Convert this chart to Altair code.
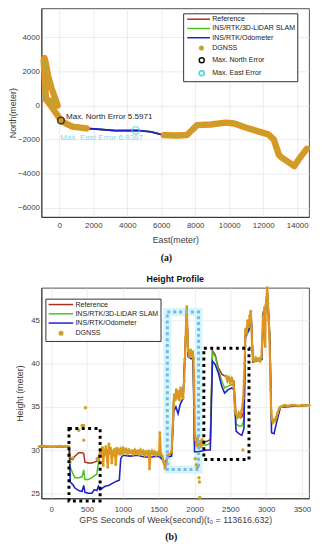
import altair as alt
import pandas as pd

FONT = "Liberation Sans"

# ---------------- panel (a): trajectory (East, North in metres) ----------------
traj_east = [-780, -830, -900, -920, -870, -800, -650, -450, -200, -100,
             -450, -780, -600, -300, 100, 400, 770, 1600, 2300, 3300,
             4600, 5400, 6150, 6900, 7500, 7800, 8100, 8900, 9800, 10300,
             11000, 12300, 12630, 12920, 13115, 13400, 13830, 14080, 14560]
traj_north = [350, 1200, 2300, 2650, 2780, 2500, 1700, 1000, 300, 0,
              250, 350, 140, -290, -880, -1060, -1240, -1340, -1390, -1470,
              -1460, -1540, -1735, -1760, -1730, -1450, -1150, -1110, -1000, -1050,
              -1300, -1690, -2000, -2880, -3070, -3260, -3550, -3170, -2540]
dgnss_gap_east = [1600, 6150]   # DGNSS unavailable between these East values

max_north_pt = [100, -880]
max_east_pt = [4500, -1450]
north_note = "Max. North Error 5.5971"
east_note = "Max. East Error 6.9387"
north_note_at = [400, -650]
east_note_at = [60, -1920]

legend_a = ["Reference", "INS/RTK/3D-LiDAR SLAM", "INS/RTK/Odometer", "DGNSS",
            "Max. North Error", "Max. East Error"]
x_dom_a = [-1050, 14700]
y_dom_a = [-6530, 5690]
x_ticks_a = [0, 2000, 4000, 6000, 8000, 10000, 12000, 14000]
y_ticks_a = [-6000, -4000, -2000, 0, 2000, 4000]

# ---------------- panel (b): height profile ----------------
time_b = [-170, 240, 250, 265, 300, 330, 384, 430, 453, 470,
          520, 568, 600, 636, 659, 680, 700, 750, 800, 866,
          911, 950, 970, 1000, 1100, 1200, 1300, 1400, 1500, 1550,
          1590, 1620, 1680, 1710, 1740, 1770, 1800, 1840, 1870, 1892,
          1910, 1950, 1980, 2000, 2050, 2100, 2170, 2220, 2250, 2290,
          2330, 2380, 2420, 2470, 2520, 2550, 2580, 2620, 2660, 2690,
          2710, 2760, 2790, 2815, 2900, 2940, 2960, 2990, 3015, 3050,
          3075, 3110, 3140, 3200, 3600]
ref_b = [30.4, 30.4, 30.4, 29.0, 28.9, 29.3, 29.7, 29.7, 29.6, 28.6,
         28.5, 28.5, 28.6, 28.7, 29.2, 29.8, 29.6, 29.8, 30.0, 29.8,
         29.9, 29.8, 29.7, 29.8, 29.8, 29.9, 29.6, 29.5, 29.6, 29.2,
         28.0, 29.3, 29.6, 36.2, 36.6, 36.3, 36.8, 36.2, 42.0, 46.3,
         41.4, 41.0, 41.2, 31.2, 31.0, 31.0, 31.0, 31.2, 41.5, 41.0,
         39.6, 38.8, 38.6, 38.4, 38.2, 38.0, 34.0, 33.8, 33.8, 34.5,
         44.0, 44.5, 45.8, 40.5, 40.6, 40.6, 46.0, 46.5, 48.6, 43.5,
         33.5, 33.4, 33.6, 35.0, 35.2]
slam_b = [30.4, 30.4, 30.4, 28.0, 27.3, 26.8, 26.8, 26.9, 27.7, 26.6,
          26.6, 26.8, 27.0, 27.2, 28.6, 29.5, 29.6, 29.7, 29.8, 29.7,
          29.8, 29.7, 29.6, 29.7, 29.7, 29.8, 29.5, 29.5, 29.5, 29.0,
          28.2, 29.3, 29.5, 36.0, 36.2, 36.0, 36.5, 36.0, 41.8, 46.1,
          41.3, 40.9, 41.0, 30.8, 30.8, 30.6, 30.6, 30.8, 41.3, 40.8,
          39.4, 38.0, 37.2, 37.4, 37.6, 37.5, 33.0, 32.8, 32.8, 33.5,
          43.2, 43.8, 45.5, 40.4, 40.5, 40.5, 46.0, 46.4, 48.5, 43.3,
          33.3, 33.3, 33.5, 35.0, 35.2]
odo_b = [30.4, 30.4, 30.4, 26.3, 26.0, 25.6, 25.3, 25.2, 25.9, 25.1,
         25.0, 25.0, 25.4, 25.3, 25.8, 25.4, 25.5, 25.8, 25.9, 26.2,
         26.4, 26.5, 29.0, 29.4, 29.3, 29.4, 29.2, 29.2, 29.3, 28.9,
         28.3, 29.2, 29.3, 34.5, 35.0, 34.2, 35.3, 36.0, 41.5, 46.5,
         40.8, 40.6, 40.6, 29.8, 29.8, 29.9, 30.0, 30.0, 40.3, 39.9,
         39.0, 37.4, 36.6, 37.0, 37.2, 37.0, 32.2, 31.9, 31.7, 32.5,
         43.0, 44.0, 45.5, 40.2, 40.4, 40.5, 45.8, 46.0, 48.2, 42.8,
         32.0, 31.9, 33.0, 35.0, 35.2]

# DGNSS samples, three continuous stretches
dg1_t = [-170, -100, -30, 50, 120, 200, 245]
dg1_h = [30.4, 30.45, 30.4, 30.4, 30.45, 30.4, 30.4]
dg2_t = [680, 693, 705, 715, 725, 738, 750, 762, 775, 790,
         805, 815, 830, 845, 858, 872, 885, 900, 915, 930,
         945, 960, 975, 990, 1005, 1025, 1045, 1065, 1085, 1105,
         1125, 1145, 1165, 1185, 1205, 1225, 1245, 1265, 1285, 1305,
         1325, 1345, 1362, 1372, 1385, 1405, 1425, 1445, 1465, 1485,
         1505, 1516, 1530, 1550, 1570, 1590, 1605, 1620, 1650, 1680,
         1700, 1715, 1730, 1745, 1760, 1775, 1790, 1805, 1820, 1840,
         1855, 1865, 1875, 1885, 1892, 1900, 1907, 1915, 1930, 1945,
         1960, 1975, 1985, 1992, 1998, 2003, 2015, 2030, 2045, 2060,
         2075, 2090, 2105, 2120]
dg2_h = [29.5, 30.1, 29.3, 30.3, 28.2, 30.0, 29.5, 30.4, 29.3, 28.0,
         30.7, 29.6, 30.2, 28.5, 29.9, 29.4, 30.1, 28.3, 30.2, 29.7,
         30.0, 29.5, 30.1, 29.7, 30.2, 29.8, 30.1, 29.6, 30.0, 29.7,
         29.9, 29.5, 30.0, 29.6, 29.9, 29.5, 30.0, 29.6, 29.9, 29.4,
         29.8, 29.5, 29.9, 27.8, 29.6, 29.9, 29.5, 29.8, 29.4, 29.7,
         29.5, 32.0, 29.6, 29.3, 28.6, 27.9, 28.4, 29.4, 29.5, 29.8,
         33.5, 36.4, 35.8, 37.0, 36.0, 36.8, 35.8, 37.2, 36.4, 36.0,
         38.0, 40.5, 43.0, 45.5, 46.6, 44.0, 42.0, 41.5, 40.8, 41.6,
         40.9, 41.4, 40.6, 38.0, 35.0, 32.0, 31.2, 30.5, 31.4, 30.2,
         31.0, 30.4, 31.2, 30.8]
dg3_t = [2440, 2460, 2480, 2500, 2520, 2540, 2555, 2565, 2580, 2600,
         2620, 2640, 2660, 2680, 2690, 2698, 2705, 2712, 2725, 2740,
         2755, 2770, 2785, 2795, 2805, 2815, 2835, 2855, 2875, 2895,
         2915, 2935, 2945, 2955, 2965, 2975, 2985, 2995, 3005, 3015,
         3025, 3035, 3045, 3055, 3062, 3070, 3080, 3095, 3110, 3125,
         3140, 3160, 3180, 3200, 3230, 3260, 3300, 3350, 3400, 3450,
         3500, 3550, 3600]
dg3_h = [38.6, 38.0, 38.4, 37.8, 38.3, 37.9, 36.5, 34.5, 34.2, 33.8,
         34.3, 33.9, 34.6, 36.0, 38.0, 40.0, 42.0, 44.0, 43.5, 45.0,
         44.3, 45.5, 46.1, 44.0, 42.0, 40.5, 40.3, 40.7, 40.4, 40.6,
         40.3, 40.8, 43.0, 45.5, 44.0, 46.5, 42.0, 46.8, 47.5, 48.8,
         47.0, 45.0, 43.0, 40.0, 37.0, 34.5, 33.6, 33.2, 33.5, 33.4,
         33.8, 34.3, 34.8, 35.0, 35.1, 35.2, 35.1, 35.2, 35.2, 35.1,
         35.2, 35.2, 35.2]
dg_out_t = [255, 262, 300, 384, 430, 453, 453, 477, 640, 662,
            2010, 2025, 2040, 2062, 2068, 2072, 2675]
dg_out_h = [29.3, 28.6, 29.1, 32.3, 32.85, 31.15, 32.85, 34.9, 29.0, 28.8,
            29.0, 28.3, 28.0, 26.8, 26.3, 24.5, 30.0]

# outage boxes
black_t0 = [247, 2130]
black_t1 = [682, 2760]
black_h0 = [24.1, 28.9]
black_h1 = [32.5, 41.8]
cyan_t0 = [1620]
cyan_t1 = [2056]
cyan_h0 = [27.75]
cyan_h1 = [46.0]

legend_b = ["Reference", "INS/RTK/3D-LiDAR SLAM", "INS/RTK/Odometer", "DGNSS"]
x_dom_b = [-137, 3599]
y_dom_b = [24.4, 48.8]
x_ticks_b = [0, 500, 1000, 1500, 2000, 2500, 3000, 3500]
y_ticks_b = [25, 30, 35, 40, 45]

# ---------------- styles ----------------
C_REF = "#a8321c"
C_SLAM = "#4cc21c"
C_ODO = "#2020c8"
C_DG = "#c9a227"
C_DG_BAND = "#e8911c"
C_CYAN = "#3fd9e6"

def circle_path(cx, r):
    return (f"M{cx - r:.2f},0A{r},{r} 0 1,0 {cx + r:.2f},0"
            f"A{r},{r} 0 1,0 {cx - r:.2f},0Z")

LINE_A = "M-0.6,0H7.1"
DOT_A = circle_path(4.2, 0.6)
RING_A = circle_path(4.3, 0.85)
LINE_B = "M-0.9,0H7.4"
DOT_B = circle_path(3.3, 0.6)

axis_style = dict(labelFont=FONT, labelFontSize=8, labelColor="#404040",
                  titleFont=FONT, titleFontSize=9, titleColor="#404040",
                  titleFontWeight="normal", gridColor="#e3e3e3", gridWidth=0.7,
                  domainColor="#262626", domainWidth=0.8, ticks=False,
                  labelFlush=False, labelOverlap=False, format="d")

W = 272
HA = 212
HB = 214

# ================= panel (a) =================
traj = pd.DataFrame({"east": traj_east, "north": traj_north,
                     "idx": range(len(traj_east))})
seg = []
for e in traj_east:
    if e <= dgnss_gap_east[0]:
        seg.append(1)
    elif e >= dgnss_gap_east[1]:
        seg.append(2)
    else:
        seg.append(0)
traj["seg"] = seg
dg_a = traj[traj["seg"] > 0]

xa = alt.X("east:Q", scale=alt.Scale(domain=x_dom_a, nice=False, zero=False),
           axis=alt.Axis(values=x_ticks_a, title="East(meter)", labelPadding=5,
                         titlePadding=5.5, **axis_style))
ya = alt.Y("north:Q", scale=alt.Scale(domain=y_dom_a, nice=False, zero=False),
           axis=alt.Axis(values=y_ticks_a, title="North(meter)", labelPadding=2,
                         titlePadding=0, **axis_style))

def path_layer(df, color, width):
    return alt.Chart(df).mark_line(color=color, strokeWidth=width).encode(
        x=xa, y=ya, order="idx:Q")

ref_a = path_layer(traj, C_REF, 1.6)
slam_a = path_layer(traj, C_SLAM, 1.6)
odo_a = path_layer(traj, C_ODO, 1.8)
band_a = alt.Chart(dg_a).mark_line(color=C_DG_BAND, strokeWidth=6.5,
                                   strokeCap="round", strokeJoin="round").encode(
    x=xa, y=ya, order="idx:Q", detail="seg:N")
core_a = alt.Chart(dg_a).mark_line(color="#bfa231", strokeWidth=3,
                                   strokeCap="round", strokeJoin="round").encode(
    x=xa, y=ya, order="idx:Q", detail="seg:N")

marks_df = pd.DataFrame({"east": [max_north_pt[0], max_east_pt[0]],
                         "north": [max_north_pt[1], max_east_pt[1]],
                         "kind": ["n", "e"]})
north_mk = alt.Chart(marks_df[marks_df.kind == "n"]).mark_point(
    shape="circle", size=45, filled=False, color="#111111", strokeWidth=1.6).encode(x=xa, y=ya)
east_mk = alt.Chart(marks_df[marks_df.kind == "e"]).mark_point(
    shape="circle", size=55, filled=False, color=C_CYAN, strokeWidth=1.5).encode(x=xa, y=ya)

notes_df = pd.DataFrame({"east": [north_note_at[0], east_note_at[0]],
                         "north": [north_note_at[1], east_note_at[1]],
                         "txt": [north_note, east_note], "kind": ["n", "e"]})
north_txt = alt.Chart(notes_df[notes_df.kind == "n"]).mark_text(
    align="left", baseline="middle", font=FONT, fontSize=8.2, color="#262626").encode(
    x=xa, y=ya, text="txt:N")
east_txt = alt.Chart(notes_df[notes_df.kind == "e"]).mark_text(
    align="left", baseline="middle", font=FONT, fontSize=8.2, color="#86d8ee").encode(
    x=xa, y=ya, text="txt:N")

legend_common = dict(orient="none", title=None, titleFontSize=0, titlePadding=0,
                     fillColor="white", strokeColor="#303030", labelFont=FONT,
                     labelFontSize=7.2, labelColor="#1a1a1a", symbolSize=36,
                     symbolStrokeWidth=1.5, symbolOpacity=1, rowPadding=1.4,
                     labelLimit=300, padding=2)
lg_a = alt.Legend(legendX=144, legendY=5, labelOffset=19.5, **legend_common)
leg_a_df = pd.DataFrame({"series_a": legend_a, "east": [traj_east[0]] * 6,
                         "north": [traj_north[0]] * 6})
legend_layer_a = alt.Chart(leg_a_df).mark_point(opacity=0, size=10).encode(
    x=xa, y=ya,
    stroke=alt.Stroke("series_a:N", scale=alt.Scale(
        domain=legend_a, range=[C_REF, C_SLAM, C_ODO, C_DG, "#111111", C_CYAN]), legend=lg_a),
    fill=alt.Fill("series_a:N", scale=alt.Scale(
        domain=legend_a, range=["transparent", "transparent", "transparent", C_DG,
                                "transparent", "transparent"]), legend=lg_a),
    shape=alt.Shape("series_a:N", scale=alt.Scale(
        domain=legend_a, range=[LINE_A, LINE_A, LINE_A, DOT_A, RING_A, RING_A]), legend=lg_a),
)

cap_a = alt.Chart(pd.DataFrame({"c": [0]})).mark_text(
    text="(a)", font="Liberation Serif", fontWeight="bold", fontSize=10,
    color="#111111").encode(x=alt.value(127), y=alt.value(HA + 42))

panel_a = alt.layer(ref_a, slam_a, odo_a, band_a, core_a, north_mk, east_mk,
                    north_txt, east_txt, legend_layer_a, cap_a).properties(
    width=W, height=HA, view=alt.ViewBackground(stroke="#262626", strokeWidth=0.8))

# ================= panel (b) =================
lines_b = pd.DataFrame({"t": time_b, "ref": ref_b, "slam": slam_b, "odo": odo_b,
                        "idx": range(len(time_b))})
dg_rows = []
for s, (tt, hh) in enumerate([(dg1_t, dg1_h), (dg2_t, dg2_h), (dg3_t, dg3_h)]):
    for k, (a, b) in enumerate(zip(tt, hh)):
        dg_rows.append({"t": a, "h": b, "seg": s, "idx": k})
dg_b = pd.DataFrame(dg_rows)
dg_out = pd.DataFrame({"t": dg_out_t, "h": dg_out_h})

xb = alt.X("t:Q", scale=alt.Scale(domain=x_dom_b, nice=False, zero=False),
           axis=alt.Axis(values=x_ticks_b, title="GPS Seconds of Week(second)(t\u2080 = 113616.632)",
                         labelPadding=7, titlePadding=3, **axis_style))
yb_axis = alt.Axis(values=y_ticks_b, title="Height (meter)", labelPadding=2,
                   titlePadding=6, **axis_style)
yscale_b = alt.Scale(domain=y_dom_b, nice=False, zero=False)

def yb(col):
    return alt.Y(f"{col}:Q", scale=yscale_b, axis=yb_axis)

def series_b(col, color, width):
    return alt.Chart(lines_b).mark_line(color=color, strokeWidth=width).encode(
        x=xb, y=yb(col), order="idx:Q")

boxes_black = pd.DataFrame({"t": black_t0, "t2": black_t1, "h": black_h0, "h2": black_h1})
boxes_cyan = pd.DataFrame({"t": cyan_t0, "t2": cyan_t1, "h": cyan_h0, "h2": cyan_h1})

def box_layer(df, color, width, dash=None):
    kw = dict(fill=None, fillOpacity=0, stroke=color, strokeWidth=width, clip=False)
    if dash:
        kw["strokeDash"] = dash
    return alt.Chart(df).mark_rect(**kw).encode(x=xb, x2="t2:Q", y=yb("h"), y2="h2:Q")

cyan_halo = box_layer(boxes_cyan, "#d2f6f9", 8)
ref_l = series_b("ref", C_REF, 1.5)
slam_l = series_b("slam", C_SLAM, 1.5)
odo_l = series_b("odo", C_ODO, 1.6)
dg_line = alt.Chart(dg_b).mark_line(color=C_DG_BAND, strokeWidth=2.2).encode(
    x=xb, y=yb("h"), order="idx:Q", detail="seg:N")
dg_pts = alt.Chart(dg_b).mark_circle(color=C_DG, size=9, opacity=1).encode(x=xb, y=yb("h"))
dg_out_pts = alt.Chart(dg_out).mark_circle(color=C_DG, size=12, opacity=1).encode(x=xb, y=yb("h"))
black_box = box_layer(boxes_black, "#000000", 3, [3, 3.5])
cyan_box = box_layer(boxes_cyan, "#7db4ec", 3, [3, 3])

lg_b = alt.Legend(legendX=4, legendY=11, labelOffset=20.5, **legend_common)
leg_b_df = pd.DataFrame({"series_b": legend_b, "t": [time_b[0]] * 4, "h": [ref_b[0]] * 4})
legend_layer_b = alt.Chart(leg_b_df).mark_point(opacity=0, size=10).encode(
    x=xb, y=yb("h"),
    stroke=alt.Stroke("series_b:N", scale=alt.Scale(
        domain=legend_b, range=[C_REF, C_SLAM, C_ODO, C_DG]), legend=lg_b),
    fill=alt.Fill("series_b:N", scale=alt.Scale(
        domain=legend_b, range=["transparent", "transparent", "transparent", C_DG]), legend=lg_b),
    shape=alt.Shape("series_b:N", scale=alt.Scale(
        domain=legend_b, range=[LINE_B, LINE_B, LINE_B, DOT_B]), legend=lg_b),
)

cap_b = alt.Chart(pd.DataFrame({"c": [0]})).mark_text(
    text="(b)", font="Liberation Serif", fontWeight="bold", fontSize=10,
    color="#111111").encode(x=alt.value(132), y=alt.value(HB + 39))

panel_b = alt.layer(cyan_halo, ref_l, slam_l, odo_l, dg_line, dg_pts, dg_out_pts,
                    black_box, cyan_box, legend_layer_b, cap_b).properties(
    width=W, height=HB,
    view=alt.ViewBackground(stroke="#262626", strokeWidth=0.8),
    title=alt.Title("Height Profile", font=FONT, fontSize=9, fontWeight="bold",
                    color="#111111", offset=0))

chart = alt.vconcat(panel_a, panel_b, spacing=10).resolve_scale(
    x="independent", y="independent", stroke="independent", fill="independent",
    shape="independent").resolve_legend(
    stroke="independent", fill="independent", shape="independent").configure_view(
    stroke=None).properties(padding={"left": 0, "top": -5, "right": 0, "bottom": 0})

chart.save("out.html", embed_options={"renderer": "svg", "actions": False})
